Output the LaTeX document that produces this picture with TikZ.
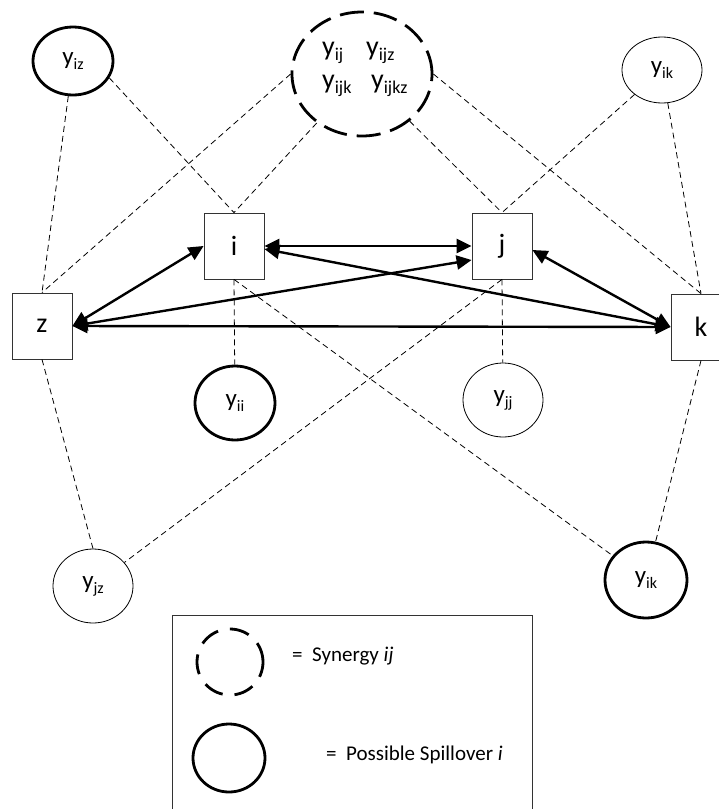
\documentclass[tikz,border=0pt]{standalone}
\usepackage{fontspec}
\setmainfont{Carlito}
\usetikzlibrary{shapes.geometric, arrows.meta}

\newcommand{\yv}[2][16]{y\raisebox{-0.2em}{\fontsize{#1}{#1}\selectfont #2}}

\tikzstyle{agent} = [
    rectangle,
    minimum width=60pt,
    minimum height=66pt,
    inner sep=0pt,
    draw=black!80,
    line width=0.8pt,
    font=\fontsize{28}{30}\selectfont
]
\tikzstyle{outcome} = [
    ellipse,
    inner sep=0pt,
    draw=black,
    line width=0.8pt,
    font=\fontsize{25}{27}\selectfont
]
\tikzstyle{spill} = [
    outcome,
    line width=2.8pt
]
\tikzstyle{synergy} = [
    ellipse,
    inner sep=0pt,
    draw=black,
    line width=2.8pt,
    dash pattern=on 24pt off 10pt
]
\tikzstyle{syntext} = [
    anchor=base west,
    inner sep=0pt,
    font=\fontsize{28}{30}\selectfont
]
\tikzstyle{keytext} = [
    anchor=base west,
    inner sep=0pt,
    font=\fontsize{21}{23}\selectfont
]
\tikzstyle{arrow} = [line width=2.4pt,<->,>={Triangle[length=15pt,width=14pt]}]
\tikzstyle{link} = [line width=0.8pt,dash pattern=on 6pt off 4pt]

\begin{document}
\begin{tikzpicture}[x=1pt, y=-1pt]

\clip (0,0) rectangle (719,809);

\node (i) [agent] at (234,246) {i};
\node (j) [agent] at (502,246) {j};
\node (z) [agent] at (42,326) {z};
\node (k) [agent] at (701,327) {k};

\node (yiz) [spill, minimum width=80pt, minimum height=68pt] at (73,61) {\yv{iz}};
\node (syn) [synergy, minimum width=140pt, minimum height=124pt] at (362,74) {};
\node (yikT) [outcome, minimum width=80pt, minimum height=66pt] at (662,70) {\yv{ik}};

\node (yij) [syntext] at (322,55) {\yv[18]{ij}};
\node (yijz) [syntext] at (366,55) {\yv[18]{ijz}};
\node (yijk) [syntext] at (322,88) {\yv[18]{ijk}};
\node (yijkz) [syntext] at (371,88) {\yv[18]{ijkz}};

\node (yii) [spill, minimum width=80pt, minimum height=74pt] at (235,403) {\yv{ii}};
\node (yjj) [outcome, minimum width=80pt, minimum height=74pt] at (503,400) {\yv{jj}};
\node (yjz) [outcome, minimum width=80pt, minimum height=74pt] at (93,586) {\yv{jz}};
\node (yikB) [spill, minimum width=82pt, minimum height=76pt] at (646,580) {\yv{ik}};

% legend
\node (legend) [draw=black!80, line width=0.8pt, minimum width=360pt, minimum height=240pt, anchor=north west] at (172,615) {};
\node (keysyn) [synergy, minimum width=66pt, minimum height=66pt, dash pattern=on 20pt off 12pt] at (230,662) {};
\node (keyspill) [spill, minimum width=72pt, minimum height=68pt] at (229,758) {};
\node (keysyntext) [keytext] at (292,661) {=\ \ Synergy \textit{ij}};
\node (keyspilltext) [keytext] at (326,760) {=\ \ Possible Spillover \textit{i}};

\draw [arrow] (i.east) -- (j.west);
\draw [arrow] ([yshift=-3pt]i.east) -- (k.west);
\draw [arrow] (z.east) -- (i.west);
\draw [arrow] (z.east) -- ([yshift=-14pt]j.west);
\draw [arrow] (z.east) -- (k.west);
\draw [arrow] ([yshift=-4pt]j.east) -- (k.west);

\draw [link] (yiz) -- (z.north);
\draw [link] (yiz.-25) -- (i.north);
\draw [link] (syn.west) -- (z.north);
\draw [link] (syn) -- (i.north);
\draw [link] (syn) -- (j.north);
\draw [link] (syn.east) -- (k.north);
\draw [link] (yikT) -- (j.north);
\draw [link] (yikT) -- (k.north);
\draw [link] (i.south) -- (yii);
\draw [link] (j.south) -- (yjj);
\draw [link] (i.south) -- (yikB);
\draw [link] (j.south) -- (yjz);
\draw [link] (z.south) -- (yjz.north);
\draw [link] (k.south) -- (yikB);

\end{tikzpicture}
\end{document}
